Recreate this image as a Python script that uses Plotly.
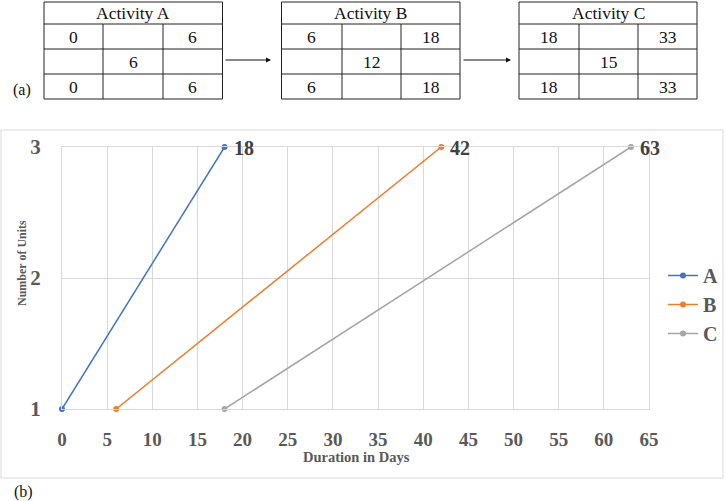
import plotly.graph_objects as go

# ---------------- data ----------------
activities = ["A", "B", "C"]
earliest_start = [0, 6, 18]
earliest_finish = [6, 18, 33]
durations = [6, 12, 15]
latest_start = [0, 6, 18]
latest_finish = [6, 18, 33]

unit_levels = [1, 3]
start_days = [0, 6, 18]
end_days = [18, 42, 63]
x_ticks = [0, 5, 10, 15, 20, 25, 30, 35, 40, 45, 50, 55, 60, 65]
y_ticks = [1, 2, 3]
colors = ["#4472C4", "#ED7D31", "#A5A5A5"]

W, H = 727, 501
FONT = "Liberation Serif, Times New Roman, serif"


def px(x):
    return x / W


def py(y):
    return 1 - y / H


fig = go.Figure()

shapes = []
annotations = []

for i, name in enumerate(activities):
    fig.add_trace(go.Scatter(
        x=[start_days[i], end_days[i]],
        y=unit_levels,
        mode="lines+markers",
        name=name,
        legendgroup=name,
        line=dict(color=colors[i], width=1.5),
        marker=dict(color=colors[i], size=6),
        cliponaxis=False,
    ))
    # end-day data label
    annotations.append(dict(xref="x", yref="y", x=end_days[i], y=unit_levels[-1],
                            text=str(end_days[i]), showarrow=False,
                            xanchor="left", yanchor="middle", xshift=7, yshift=-1,
                            font=dict(family=FONT, size=20, color="#404040", weight="bold")))

# ---------------- (a) activity tables ----------------
table_x = [(44, 103, 163, 222.5), (281.5, 342, 401, 460), (519, 579, 638, 697)]
row_y = [2, 24, 49, 74, 99]
line_c = "#222222"
for i, name in enumerate(activities):
    x0, c1, c2, x1 = table_x[i]
    shapes.append(dict(type="rect", xref="paper", yref="paper",
                       x0=px(x0), x1=px(x1), y0=py(row_y[0]), y1=py(row_y[4]),
                       line=dict(color=line_c, width=1)))
    for ry in row_y[1:4]:
        shapes.append(dict(type="line", xref="paper", yref="paper",
                           x0=px(x0), x1=px(x1), y0=py(ry), y1=py(ry),
                           line=dict(color=line_c, width=1)))
    for cx in (c1, c2):
        shapes.append(dict(type="line", xref="paper", yref="paper",
                           x0=px(cx), x1=px(cx), y0=py(row_y[1]), y1=py(row_y[4]),
                           line=dict(color=line_c, width=1)))
    cols = [(x0 + c1) / 2, (c1 + c2) / 2, (c2 + x1) / 2]
    rows = [(row_y[k] + row_y[k + 1]) / 2 for k in range(4)]
    cells = [
        ((x0 + x1) / 2, rows[0], "Activity " + name),
        (cols[0], rows[1], str(earliest_start[i])),
        (cols[2], rows[1], str(earliest_finish[i])),
        (cols[1], rows[2], str(durations[i])),
        (cols[0], rows[3], str(latest_start[i])),
        (cols[2], rows[3], str(latest_finish[i])),
    ]
    for cx, cy, t in cells:
        annotations.append(dict(xref="paper", yref="paper", x=px(cx), y=py(cy),
                                text=t, showarrow=False, xanchor="center", yanchor="middle",
                                font=dict(family=FONT, size=17.5, color="#111111")))

# arrows between tables
for (xa, xb) in [(224, 271), (462, 511)]:
    annotations.append(dict(xref="paper", yref="paper", x=px(xb), y=py(60),
                            ax=xa - xb, ay=0, text="", showarrow=True,
                            arrowhead=2, arrowsize=1, arrowwidth=1, arrowcolor="#111111"))

annotations.append(dict(xref="paper", yref="paper", x=px(21.5), y=py(90), text="(a)",
                        showarrow=False, xanchor="center", yanchor="middle",
                        font=dict(family=FONT, size=16, color="#111111")))
annotations.append(dict(xref="paper", yref="paper", x=px(24), y=py(492), text="(b)",
                        showarrow=False, xanchor="center", yanchor="middle",
                        font=dict(family=FONT, size=16, color="#111111")))

# ---------------- (b) chart frame & titles ----------------
shapes.append(dict(type="rect", xref="paper", yref="paper",
                   x0=px(1), x1=px(723), y0=py(130), y1=py(478),
                   line=dict(color="#D9D9D9", width=1), layer="below"))

annotations.append(dict(xref="paper", yref="paper", x=px(22), y=py(263),
                        text="Number of Units", textangle=-90, showarrow=False,
                        xanchor="center", yanchor="middle",
                        font=dict(family=FONT, size=12, color="#595959", weight="bold")))
annotations.append(dict(xref="paper", yref="paper", x=px(356), y=py(457),
                        text="Duration in Days", showarrow=False,
                        xanchor="center", yanchor="middle",
                        font=dict(family=FONT, size=14.5, color="#595959", weight="bold")))

grid_c = "#D9D9D9"
fig.update_layout(
    width=W, height=H,
    margin=dict(l=0, r=0, t=0, b=0, autoexpand=False),
    paper_bgcolor="white", plot_bgcolor="white",
    shapes=shapes, annotations=annotations,
    showlegend=True,
    legend=dict(x=px(663), y=py(256), xanchor="left", yanchor="top",
                font=dict(family=FONT, size=20, color="#595959", weight="bold"),
                bgcolor="rgba(0,0,0,0)", tracegroupgap=0, itemwidth=30),
    xaxis=dict(domain=[px(62), px(649)], range=[0, 65], tickvals=x_ticks,
               showgrid=True, gridcolor=grid_c, gridwidth=1,
               showline=True, linecolor=grid_c, linewidth=1, mirror=True,
               zeroline=False, ticks="", ticklabelstandoff=13, automargin=False,
               tickfont=dict(family=FONT, size=19, color="#595959", weight="bold")),
    yaxis=dict(domain=[py(409), py(147)], range=[1, 3], tickvals=y_ticks,
               showgrid=True, gridcolor=grid_c, gridwidth=1,
               showline=True, linecolor=grid_c, linewidth=1, mirror=True,
               zeroline=False, ticks="", ticklabelstandoff=16, automargin=False,
               tickfont=dict(family=FONT, size=21, color="#595959", weight="bold")),
)

fig.write_html("out.html")
